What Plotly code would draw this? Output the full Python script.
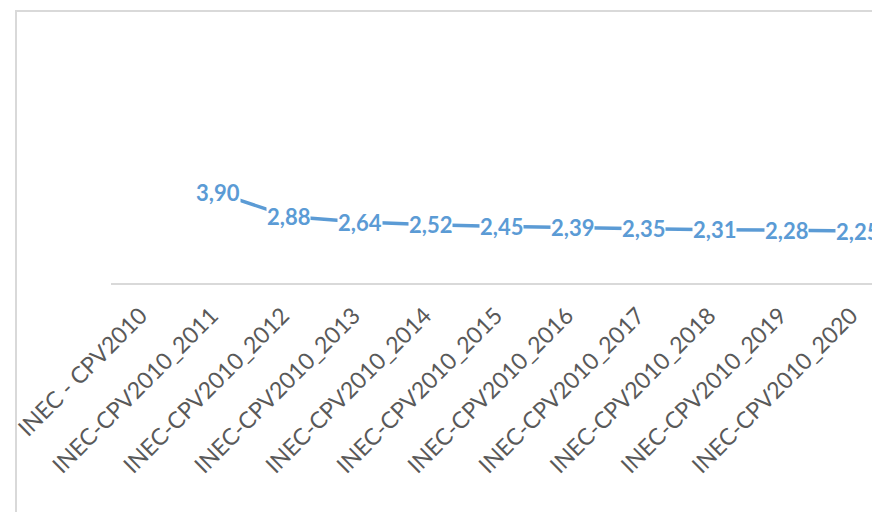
import plotly.graph_objects as go

# categories on the x axis (first one has no value)
categories = ['INEC - CPV2010', 'INEC-CPV2010_2011', 'INEC-CPV2010_2012',
              'INEC-CPV2010_2013', 'INEC-CPV2010_2014', 'INEC-CPV2010_2015',
              'INEC-CPV2010_2016', 'INEC-CPV2010_2017', 'INEC-CPV2010_2018',
              'INEC-CPV2010_2019', 'INEC-CPV2010_2020']
values = [None, 3.90, 2.88, 2.64, 2.52, 2.45, 2.39, 2.35, 2.31, 2.28, 2.25]

blue = '#5B9BD5'
grey = '#D9D9D9'

W, H = 872, 512
m_l, m_r, m_t, m_b = 111, 0, 52, 229

fig = go.Figure()
fig.add_scatter(x=categories, y=values, mode='lines',
                line=dict(color=blue, width=3.5), hoverinfo='skip',
                showlegend=False)

# data labels centred on the points, white box hides the line behind
for c, v in zip(categories, values):
    if v is None:
        continue
    fig.add_annotation(x=c, y=v, text=('%.2f' % v).replace('.', ','),
                       showarrow=False, bgcolor='white', borderpad=0,
                       font=dict(family='Lato', size=22, color=blue,
                                 weight='bold'))

# outer chart frame (cropped by the picture on the right and bottom)
pw = W - m_l - m_r
ph = H - m_t - m_b
fig.add_shape(type='rect', xref='paper', yref='paper',
              x0=(16 - m_l) / pw, x1=(900 - m_l) / pw,
              y0=-(540 - H + m_b) / ph, y1=(H - m_b - 11) / ph,
              line=dict(color=grey, width=2), layer='below')

fig.update_layout(
    width=W, height=H,
    margin=dict(l=m_l, r=m_r, t=m_t, b=m_b, autoexpand=False),
    paper_bgcolor='white', plot_bgcolor='white',
    xaxis=dict(type='category', range=[-0.5, 10.21], showgrid=False,
               showline=True, linecolor=grey, linewidth=2, ticks='',
               tickangle=-45, zeroline=False, automargin=False,
               ticklabelshift=-6, ticklabelstandoff=8,
               tickfont=dict(family='Lato', size=23, color='#595959')),
    yaxis=dict(range=[0, 10], visible=False, automargin=False),
)

# page body has a default margin; drop it so the figure fills the window
fig.write_html('out.html', config={'displayModeBar': False},
               post_script="document.body.style.margin='0';"
                           "document.body.style.overflow='hidden';")
